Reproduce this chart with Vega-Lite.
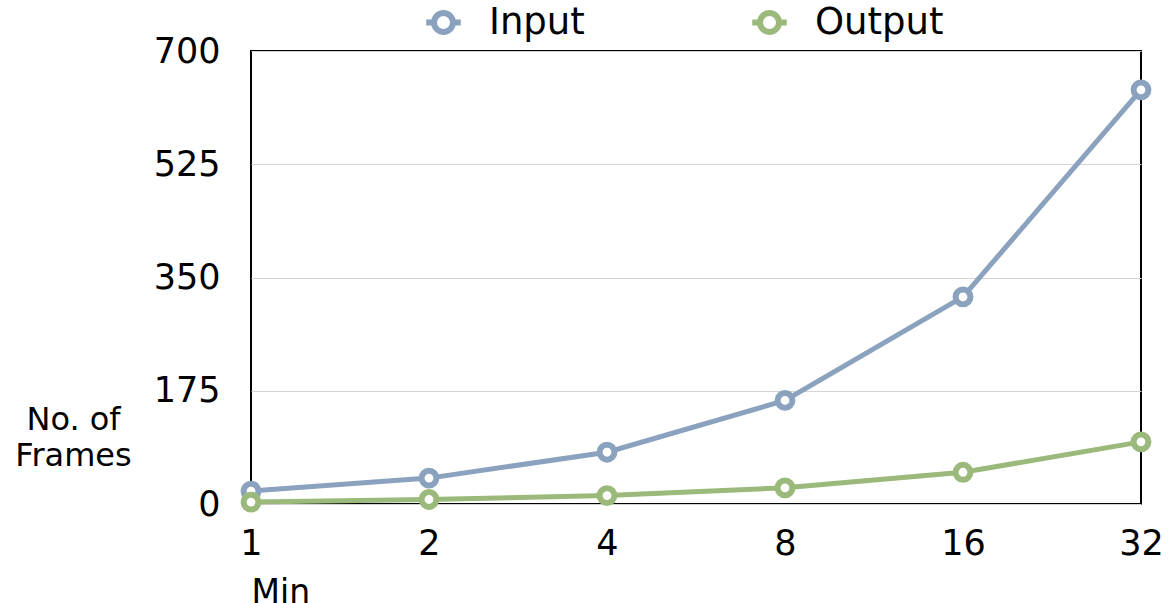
{
  "$schema": "https://vega.github.io/schema/vega-lite/v6.json",
  "autosize": {"type": "none"},
  "width": 890,
  "height": 453,
  "padding": {"left": 251, "top": 51, "right": 34, "bottom": 99},
  "background": "white",
  "config": {
    "font": "DejaVu Sans",
    "view": {"stroke": "black", "strokeWidth": 2}
  },
  "data": {
    "values": [
      {"min": "1", "series": "Input", "frames": 20},
      {"min": "2", "series": "Input", "frames": 40},
      {"min": "4", "series": "Input", "frames": 80},
      {"min": "8", "series": "Input", "frames": 160},
      {"min": "16", "series": "Input", "frames": 320},
      {"min": "32", "series": "Input", "frames": 640},
      {"min": "1", "series": "Output", "frames": 3},
      {"min": "2", "series": "Output", "frames": 7},
      {"min": "4", "series": "Output", "frames": 13},
      {"min": "8", "series": "Output", "frames": 25},
      {"min": "16", "series": "Output", "frames": 49},
      {"min": "32", "series": "Output", "frames": 96}
    ]
  },
  "encoding": {
    "x": {
      "field": "min", "type": "ordinal", "sort": null,
      "scale": {"type": "point", "padding": 0},
      "axis": {
        "title": "Min", "labelAngle": 0, "labelFontSize": 35, "labelColor": "black",
        "labelPadding": 22, "ticks": false, "domain": false, "grid": false,
        "titleFontSize": 33, "titleFontWeight": "normal", "titleColor": "black",
        "titleAnchor": "start", "titleAlign": "left", "titleX": 0, "titleY": 88,
        "titleBaseline": "middle", "labelFlush": false
      }
    },
    "y": {
      "field": "frames", "type": "quantitative",
      "scale": {"domain": [0, 700]},
      "axis": {
        "title": ["No. of", "Frames"], "values": [0, 175, 350, 525, 700],
        "labelFontSize": 35, "labelColor": "black", "labelPadding": 31,
        "ticks": false, "domain": false, "grid": true, "gridColor": "#d4d4d4", "gridWidth": 1,
        "titleAngle": 0, "titleFontSize": 32, "titleFontWeight": "normal", "titleColor": "black",
        "titleAlign": "center", "titleBaseline": "middle", "titleX": -178, "titleY": 368,
        "titleLineHeight": 36
      }
    },
    "color": {
      "field": "series", "type": "nominal",
      "scale": {"domain": ["Input", "Output"], "range": ["#8aa2bd", "#9ab97b"]},
      "legend": {
        "title": null, "orient": "none", "direction": "horizontal",
        "legendX": 172, "legendY": -49,
        "labelFontSize": 37, "labelColor": "black", "labelOffset": 25,
        "columnPadding": 155,
        "symbolType": "M-1,0L-0.55,0M0.55,0L1,0M-0.55,0A0.55,0.55,0,1,1,0.55,0A0.55,0.55,0,1,1,-0.55,0Z",
        "symbolSize": 1190, "symbolStrokeWidth": 6, "symbolFillColor": "white"
      }
    }
  },
  "layer": [
    {"mark": {"type": "line", "strokeWidth": 5}},
    {"mark": {"type": "point", "shape": "circle", "filled": false, "fill": "white", "fillOpacity": 1, "strokeWidth": 6, "size": 220, "opacity": 1}}
  ]
}
